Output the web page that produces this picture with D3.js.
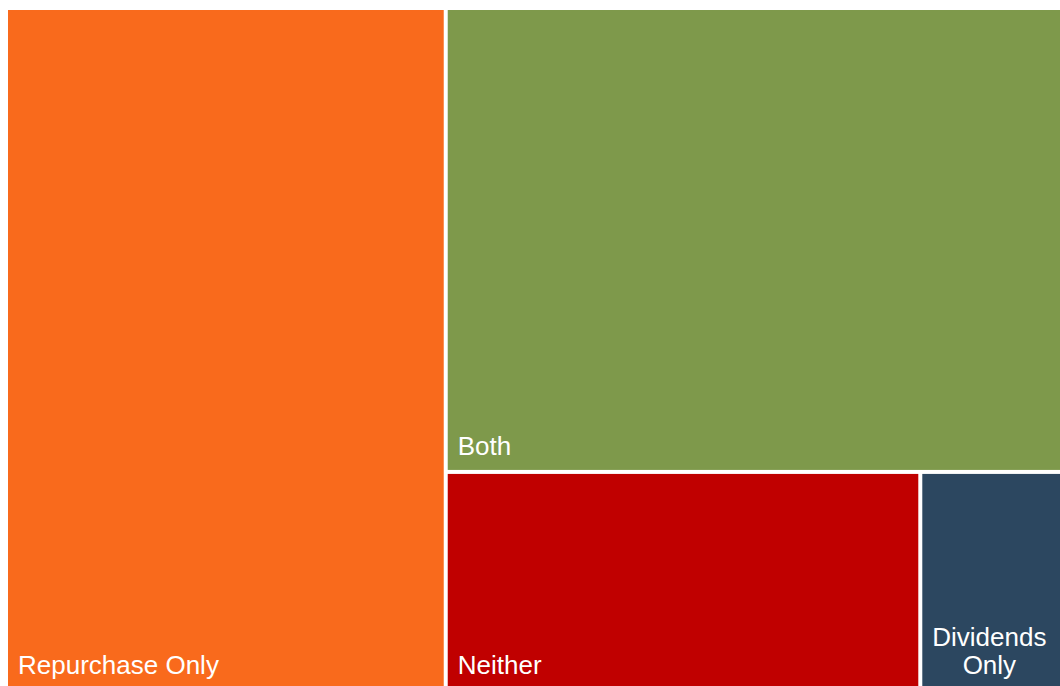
<!DOCTYPE html>
<html>
<head>
<meta charset="utf-8">
<script src="https://cdn.jsdelivr.net/npm/d3@7"></script>
<style>
  body { margin: 0; background: #fff; }
  svg { display: block; }
</style>
</head>
<body>
<div id="main"></div>
<script>
// valeurs (parts en %)
const categories = ["Repurchase Only", "Both", "Neither", "Dividends Only"];
const shares = [41.6, 39.6, 14.4, 4.3];
const labelLines = [["Repurchase Only"], ["Both"], ["Neither"], ["Dividends", "Only"]];
const colors = ["#F96A1C", "#7E994B", "#C00000", "#2C4760"];

const ctx = {
    width: 1060,
    height: 686,
    left: 8,
    top: 10,
    right: 1060,
    bottom: 689
};

function createViz() {
    const svg = d3.select("#main")
        .append("svg")
        .attr("width", ctx.width)
        .attr("height", ctx.height);

    const root = d3.hierarchy({
        children: categories.map((c, i) => ({ name: c, value: shares[i], idx: i }))
    }).sum(d => d.value);

    d3.treemap()
        .tile(d3.treemapBinary)
        .size([ctx.right - ctx.left, ctx.bottom - ctx.top])
        .paddingInner(4)
        .round(false)(root);

    const g = svg.append("g")
        .attr("transform", "translate(" + ctx.left + "," + ctx.top + ")");

    const cell = g.selectAll("g.cell")
        .data(root.leaves())
        .enter().append("g")
        .attr("class", "cell");

    cell.append("rect")
        .attr("x", d => d.x0)
        .attr("y", d => d.y0)
        .attr("width", d => d.x1 - d.x0)
        .attr("height", d => d.y1 - d.y0)
        .attr("fill", d => colors[d.data.idx]);

    // étiquettes en bas à gauche de chaque tuile
    cell.each(function (d) {
        const lines = labelLines[d.data.idx];
        const t = d3.select(this).append("text")
            .style("font-family", "'Liberation Sans', Arial, sans-serif")
            .style("font-size", "26px")
            .attr("fill", "#fff");
        const lineH = 28;
        const x = d.x0 + 10;
        const n = lines.length;
        lines.forEach((l, k) => {
            t.append("tspan")
                .attr("x", x)
                .attr("y", d.y1 - 15 - (n - 1 - k) * lineH)
                .text(l);
        });
        // lignes multiples : centrées sur la plus large
        if (n > 1) {
            const spans = t.selectAll("tspan").nodes();
            const w = d3.max(spans, s => s.getComputedTextLength());
            spans.forEach(s => {
                d3.select(s)
                    .attr("x", x + w / 2)
                    .attr("text-anchor", "middle");
            });
        }
    });
}

createViz();
</script>
</body>
</html>
